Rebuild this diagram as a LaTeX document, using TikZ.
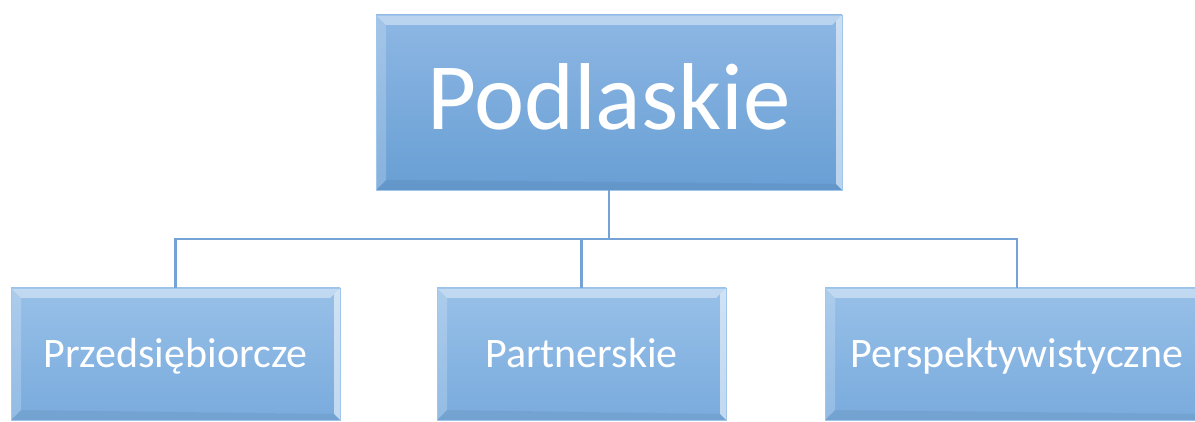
\documentclass[tikz,border=0pt]{standalone}
\usepackage{fontspec}
\setmainfont{Carlito}
\usetikzlibrary{calc}
\definecolor{headtop}{RGB}{142,183,228}
\definecolor{headbot}{RGB}{104,159,212}
\definecolor{leaftop}{RGB}{152,192,232}
\definecolor{leafbot}{RGB}{121,171,221}
\definecolor{edgeblue}{RGB}{160,198,236}
\definecolor{linkblue}{RGB}{118,163,213}
\tikzset{
  bevel/.style = {
    path picture={
      \path (path picture bounding box.south west) coordinate (sw)
            (path picture bounding box.north east) coordinate (ne);
      \fill[white,opacity=.4] (sw|-ne) -- (ne) -- ($(ne)+(-10,-10)$) -- ($(sw|-ne)+(10,-10)$) -- cycle;
      \fill[white,opacity=.2] (sw) -- (sw|-ne) -- ($(sw|-ne)+(10,-10)$) -- ($(sw)+(10,10)$) -- cycle;
      \fill[white,opacity=.55] (ne) -- (ne|-sw) -- ($(ne|-sw)+(-6,6)$) -- ($(ne)+(-6,-6)$) -- cycle;
      \fill[black,opacity=.05] (sw) -- (ne|-sw) -- ($(ne|-sw)+(-6,6)$) -- ($(sw)+(10,10)$) -- cycle;
    }
  },
  tile/.style = {rectangle, draw=edgeblue, line width=.8pt, inner sep=0pt, text=white, bevel},
  head/.style = {tile, top color=headtop, bottom color=headbot,
    minimum width=466pt, minimum height=175pt,
    font=\fontsize{95}{100}\selectfont, text height=62pt, text depth=7pt},
  leaf/.style = {tile, top color=leaftop, bottom color=leafbot, minimum height=132pt,
    font=\fontsize{42}{46}\selectfont, text height=27pt, text depth=1pt},
  link/.style = {draw=linkblue, line width=2.5pt}
}

\begin{document}
\begin{tikzpicture}[x=1pt,y=1pt]
  \useasboundingbox (0,0) rectangle (1195,-422);
  \node[head] (podl) at (609,-102.5) {Podlaskie};
  \node[leaf, minimum width=329pt] (przed) at (175.5,-354) {Przedsiębiorcze};
  \node[leaf, minimum width=289pt] (partn) at (581.5,-354) {Partnerskie};
  \node[leaf, minimum width=384pt] (persp) at (1017,-354) {Perspektywistyczne};
  \coordinate (bus) at (609,-239);
  \draw[link] (podl.south) -- (bus);
  \draw[link] (przed.north) |- (bus) -| (persp.north);
  \draw[link] (bus) -| (partn.north);
\end{tikzpicture}
\end{document}
